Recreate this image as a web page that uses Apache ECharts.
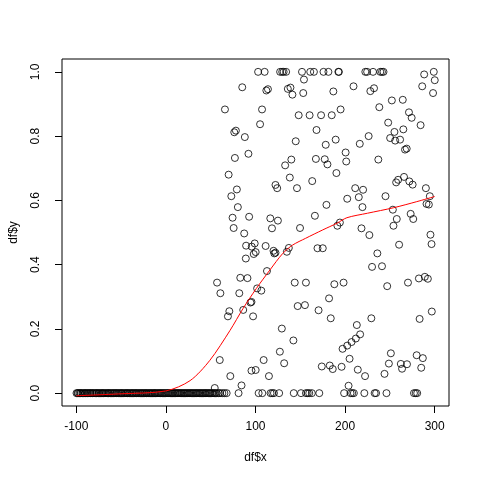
<!DOCTYPE html>
<html>
<head>
<meta charset="utf-8">
<script src="https://cdn.jsdelivr.net/npm/echarts@6/dist/echarts.min.js"></script>
<style>
  html, body { margin: 0; padding: 0; background: #fff; }
  #chart { width: 480px; height: 480px; }
</style>
</head>
<body>
<div id="chart"></div>
<script>
// points lying on y = 0
const zeroX = [
  -99.8,-98.6,-97.9,-96.4,-95.2,-94.7,-93.1,-91.8,-90.5,-89.9,-88.2,-87.4,-86.0,-84.7,-83.9,-82.3,
  -81.6,-80.2,-78.8,-77.5,-76.9,-75.1,-74.3,-72.8,-71.6,-70.4,-69.7,-68.1,-66.9,-65.5,-64.2,-63.6,
  -61.9,-60.8,-59.4,-58.3,-57.0,-55.7,-54.8,-53.2,-52.1,-50.6,-49.5,-48.7,-47.1,-45.8,-44.6,-43.3,
  -42.5,-40.9,-39.8,-38.2,-37.4,-36.1,-34.7,-33.5,-32.6,-31.0,-29.9,-28.4,-27.3,-26.1,-24.8,-23.6,
  -22.2,-21.5,-19.8,-18.7,-17.3,-16.2,-15.0,-13.6,-12.4,-11.7,-10.1,-8.9,-7.6,-6.3,-5.4,-3.9,-2.8,
  -1.5,-0.3,1.2,2.4,3.5,4.9,6.1,7.3,8.2,9.8,10.9,12.3,13.4,14.6,15.9,17.1,18.2,19.7,20.8,22.0,23.4,
  24.5,25.9,27.0,28.3,29.6,30.7,32.1,33.4,34.5,35.8,37.2,38.3,39.6,40.9,42.1,43.5,44.6,45.8,47.3,
  48.5,49.7,51.2,52.6,54.0,55.3,56.7,58.9,60.4,63.0,65.3,67.8,
  81.1,103.5,107.6,116.8,118.7,120.6,126.4,142.7,150.8,156.3,158.2,160.0,162.9,171.2,198.9,206.1,
  208.0,209.8,221.5,233.0,234.6,246.2,276.9,278.8,280.5
]

// points lying on y = 1
const oneX = [102.9,110.2,127.5,129.8,131.4,134.2,151.9,161.1,165.2,175.9,181.4,192.5,193.1,
  222.6,224.6,231.2,239.3,241.2,242.9,299.0]

// points in between
const midX = [
  85.2,65.9,76.3,78.1,88.1,77.0,92.1,70.0,79.2,73.0,80.3,74.4,92.9,75.6,87.4,89.5,95.8,99.1,100.2,
  98.0,89.2,57.1,60.8,83.0,91.0,81.9,94.4,70.8,69.2,86.3,97.3,60.1,71.9,95.5,100.2,84.4,54.5,
  112.1,113.9,136.1,139.0,141.2,154.1,153.3,186.9,209.4,228.2,232.3,286.1,298.2,288.3,300.1,
  107.3,105.1,148.2,160.4,173.2,185.1,195.0,238.2,252.2,264.4,271.3,274.3,284.3,248.1,255.1,265.0,
  250.3,255.9,261.4,266.9,268.8,168.1,144.9,178.4,189.5,216.4,226.3,200.6,201.3,140.0,133.1,167.4,
  177.3,180.3,190.3,237.1,138.3,122.3,124.2,146.3,163.3,211.3,220.1,202.4,215.3,219.4,245.1,257.0,
  259.2,265.8,271.7,275.4,290.2,294.6,290.9,293.5,179.2,166.3,116.5,125.0,118.4,149.7,191.4,194.2,
  218.3,253.3,257.7,254.0,273.2,276.1,111.3,120.1,122.3,121.0,135.0,137.2,169.2,175.1,227.1,260.3,
  295.3,296.5,236.0,230.1,241.2,112.8,143.8,156.3,188.0,198.3,247.0,270.2,282.4,289.0,292.4,101.8,
  106.5,95.5,147.1,155.2,170.4,182.1,184.0,229.3,283.2,296.8,129.4,142.3,127.2,132.0,109.1,115.0,
  174.0,182.9,186.2,196.1,197.2,202.4,207.2,212.0,216.8,213.1,205.0,214.2,222.3,203.9,244.0,248.9,
  251.1,262.2,263.6,269.1,279.9,286.8,285.0
]
const midY = [
  0.952,0.883,0.812,0.817,0.797,0.732,0.745,0.680,0.634,0.613,0.579,0.546,0.549,0.514,0.497,0.459,
  0.456,0.466,0.439,0.433,0.419,0.344,0.311,0.359,0.358,0.311,0.282,0.255,0.239,0.259,0.239,0.103,
  0.053,0.070,0.072,0.024,0.016,
  0.942,0.946,0.947,0.951,0.929,0.976,0.934,0.939,0.955,0.940,0.949,0.955,0.934,0.992,0.974,
  0.883,0.837,0.865,0.865,0.865,0.865,0.883,0.890,0.911,0.913,0.874,0.857,0.834,0.842,0.813,0.821,
  0.794,0.786,0.789,0.758,0.761,0.819,0.784,0.773,0.789,0.776,0.800,0.749,0.721,0.727,0.709,0.729,
  0.728,0.712,0.685,0.727,0.671,0.648,0.638,0.638,0.660,0.638,0.633,0.605,0.610,0.579,0.613,0.656,
  0.664,0.673,0.659,0.649,0.638,0.613,0.589,0.587,0.586,0.552,0.544,0.537,0.513,0.514,0.521,0.531,
  0.513,0.571,0.542,0.521,0.558,0.542,0.458,0.443,0.437,0.435,0.440,0.452,0.451,0.451,0.492,0.462,
  0.493,0.464,0.435,0.393,0.395,0.380,0.344,0.344,0.339,0.344,0.333,0.344,0.357,0.362,0.356,0.326,
  0.319,0.284,0.271,0.274,0.258,0.295,0.233,0.233,0.231,0.254,0.201,0.164,0.129,0.093,0.103,0.053,
  0.083,0.086,0.075,0.082,0.138,0.148,0.159,0.170,0.183,0.212,0.107,0.073,0.053,0.023,0.060,0.092,
  0.124,0.091,0.076,0.090,0.118,0.109,0.079
]

// smooth fit (red line)
const fitX = [-100,-50,0,27,49,71.5,86,101,116,130.5,141.5,156,175,191,202,225,254,280,300]
const fitY = [-0.008,-0.002,0.007,0.039,0.102,0.195,0.263,0.326,0.383,0.435,0.461,0.482,0.508,
  0.529,0.546,0.560,0.577,0.596,0.612]

const xTicks = [-100, 0, 100, 200, 300]
const yTicks = [0, 0.2, 0.4, 0.6, 0.8, 1.0]

const points = []
zeroX.forEach((x) => points.push([x, 0]))
oneX.forEach((x) => points.push([x, 1]))
midX.forEach((x, i) => points.push([x, midY[i]]))

const font = '"Liberation Sans", Arial, Helvetica, sans-serif'
const chart = echarts.init(document.getElementById('chart'), null, { renderer: 'canvas' })
chart.setOption({
  animation: false,
  backgroundColor: '#fff',
  grid: { left: 59, right: 31, top: 59, bottom: 74, show: true, borderColor: '#000', borderWidth: 1 },
  xAxis: {
    type: 'value', min: -116, max: 316,
    name: 'df$x', nameLocation: 'middle', nameGap: 46,
    nameTextStyle: { color: '#000', fontSize: 12, fontFamily: font },
    axisLine: { show: false, onZero: false },
    axisTick: { show: true, length: 7, customValues: xTicks, lineStyle: { color: '#000' } },
    axisLabel: { customValues: xTicks, margin: 15, color: '#000', fontSize: 12, fontFamily: font },
    splitLine: { show: false }
  },
  yAxis: {
    type: 'value', min: -0.04, max: 1.04,
    name: 'df$y', nameLocation: 'middle', nameGap: 42,
    nameTextStyle: { color: '#000', fontSize: 12, fontFamily: font },
    axisLine: { show: false, onZero: false },
    axisTick: { show: true, length: 7, customValues: yTicks, lineStyle: { color: '#000' } },
    axisLabel: {
      customValues: yTicks, rotate: 90, margin: 20, color: '#000', fontSize: 12, fontFamily: font,
      formatter: (v) => v.toFixed(1)
    },
    splitLine: { show: false }
  },
  series: [
    {
      type: 'scatter', data: points, symbol: 'circle', symbolSize: 7,
      itemStyle: { color: 'rgba(0,0,0,0)', borderColor: '#000', borderWidth: 1 },
      emphasis: { disabled: true }, silent: true
    },
    {
      type: 'line', data: fitX.map((x, i) => [x, fitY[i]]), showSymbol: false, smooth: 0.3,
      lineStyle: { color: '#ff0000', width: 1 }, emphasis: { disabled: true }, silent: true
    }
  ]
})
</script>
</body>
</html>
